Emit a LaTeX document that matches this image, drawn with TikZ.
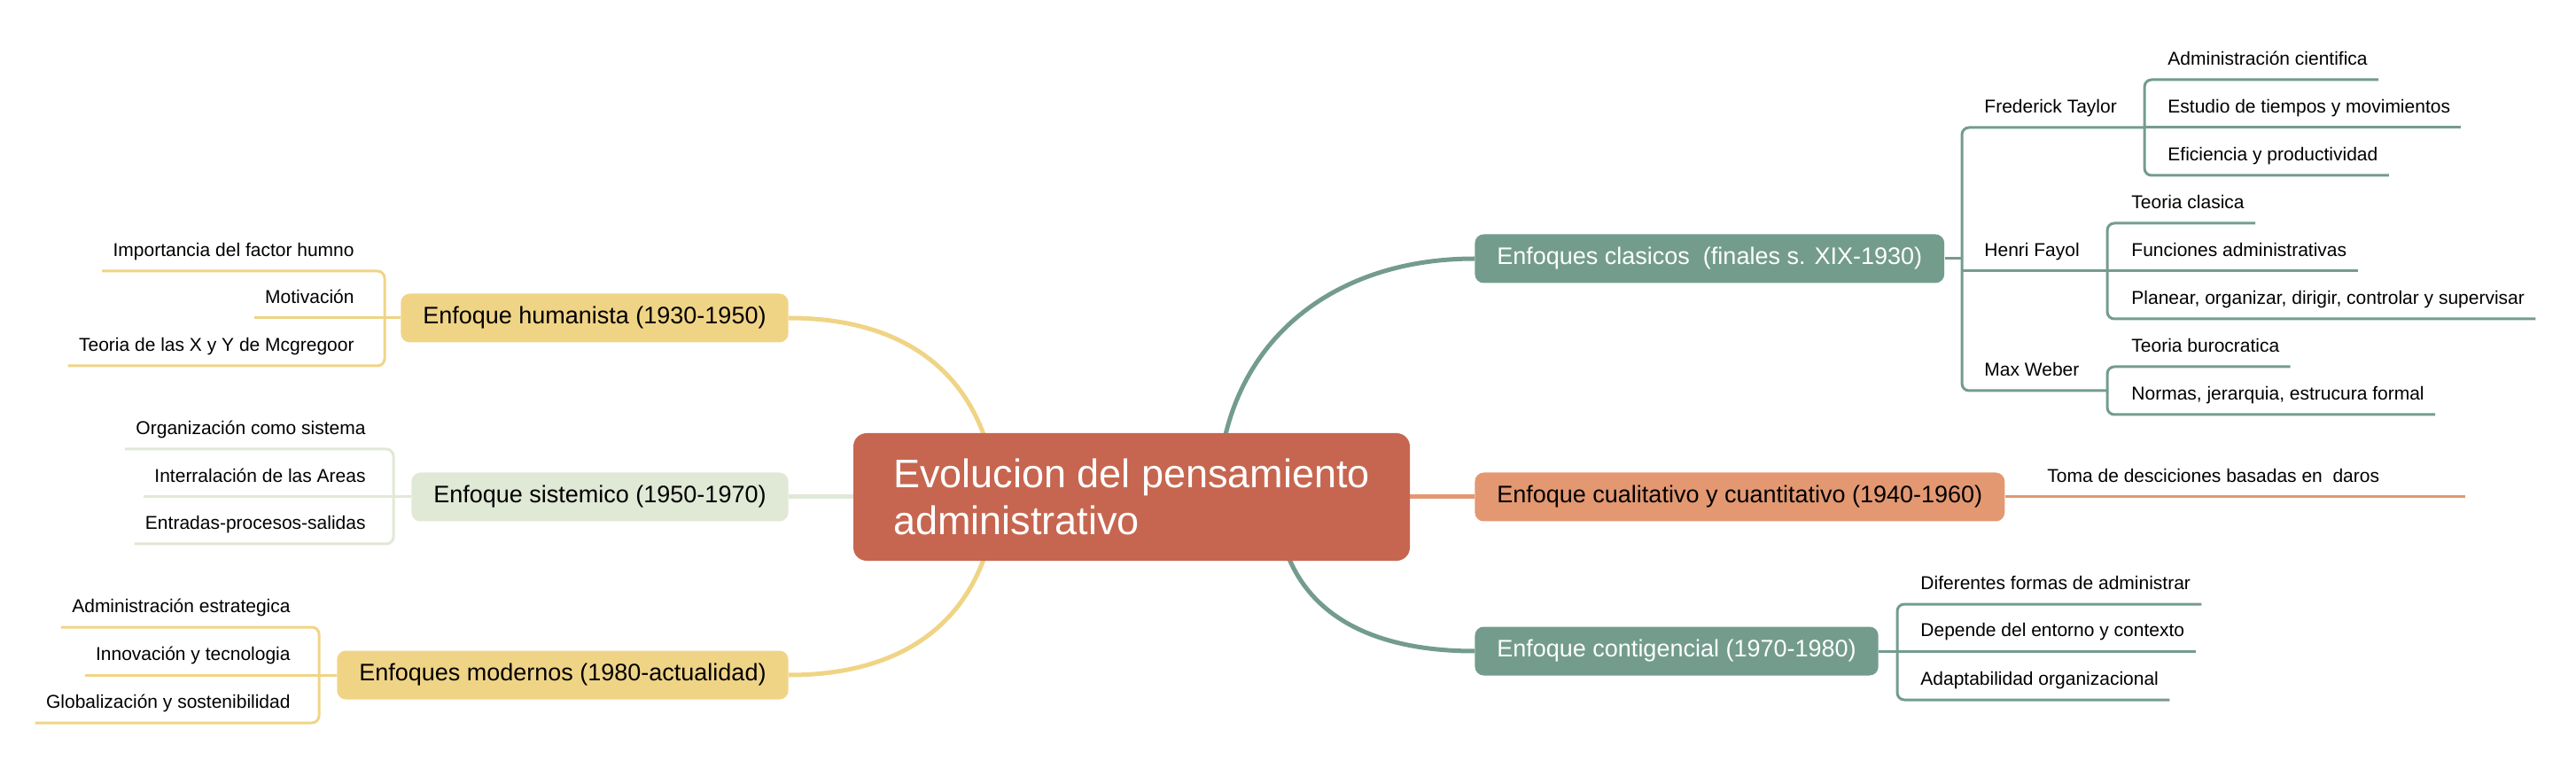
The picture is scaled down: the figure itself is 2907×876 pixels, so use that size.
\documentclass[tikz,border=0pt]{standalone}
\usepackage{fontspec}
\setmainfont{Liberation Sans}
\usepackage{tikz}
\usetikzlibrary{backgrounds}
\definecolor{mainColor}{RGB}{199,102,80}
\definecolor{humColor}{RGB}{240,212,134}
\definecolor{sisColor}{RGB}{224,232,214}
\definecolor{clasColor}{RGB}{115,156,141}
\definecolor{cualColor}{RGB}{227,152,114}

\begin{document}
\begin{tikzpicture}[x=0.5pt,y=-0.5pt]

          \tikzstyle{mainNode} = [fill=mainColor, text=white, rounded corners=7.5pt, align=left, minimum width=314pt, minimum height=72pt, font=\fontsize{22.5pt}{26.5pt}\selectfont];
          \tikzstyle{topicNode} = [rounded corners=5pt, minimum height=27.5pt, inner xsep=12.5pt, font=\fontsize{13.5pt}{16pt}\selectfont];
          \tikzstyle{leafNode} = [inner xsep=6pt, inner ysep=8pt, text depth=0pt, font=\fontsize{10.5pt}{12.5pt}\selectfont];

          \tikzstyle{curveEdge} = [line width=2.5pt];
          \tikzstyle{leafEdge} = [line width=1.5pt, rounded corners=4pt];

          \useasboundingbox (0,0) rectangle (2907,876);

          \node[mainNode] (main) at (1277,561) {Evolucion del pensamiento\\administrativo};
          \node[topicNode, fill=humColor, anchor=east] (humanista) at (890,359) {Enfoque humanista (1930-1950)};
          \node[topicNode, fill=sisColor, anchor=east] (sistemico) at (890,561) {Enfoque sistemico (1950-1970)};
          \node[topicNode, fill=humColor, anchor=east] (modernos) at (890,762) {Enfoques modernos (1980-actualidad)};
          \node[topicNode, fill=clasColor, text=white, anchor=west] (clasicos) at (1664,292) {Enfoques clasicos\ \ (finales s. XIX-1930)};
          \node[topicNode, fill=cualColor, anchor=west] (cualitativo) at (1664,561) {Enfoque cualitativo y cuantitativo (1940-1960)};
          \node[topicNode, fill=clasColor, text=white, anchor=west] (contigencial) at (1664,735) {Enfoque contigencial (1970-1980)};

          \coordinate (hubLeft) at (1125,561);
          \coordinate (hubTop) at (1375,561);
          \coordinate (hubBottom) at (1440,561);
          \begin{pgfonlayer}{background}
          \draw[curveEdge, humColor] (hubLeft) .. controls (1115,440) and (1040,359) .. (humanista.east);
          \draw[curveEdge, humColor] (hubLeft) .. controls (1115,682) and (1040,762) .. (modernos.east);
          \draw[curveEdge, sisColor] (main.west) -- (sistemico.east);
          \draw[curveEdge, clasColor] (hubTop) .. controls (1375,400) and (1491,292) .. (clasicos.west);
          \draw[curveEdge, cualColor] (main.east) -- (cualitativo.west);
          \draw[curveEdge, clasColor] (hubBottom) .. controls (1445,680) and (1530,735) .. (contigencial.west);
          \end{pgfonlayer}

          % humanista
          \coordinate (humB) at (434,359);
          \node[leafNode, anchor=south east] (factor) at (412,306) {Importancia del factor humno};
          \node[leafNode, anchor=south east] (motivacion) at (412,359) {Motivación};
          \node[leafNode, anchor=south east] (mcgregor) at (412,413) {Teoria de las X y Y de Mcgregoor};
          \draw[leafEdge, humColor] (factor.south west) -| (humB) |- (mcgregor.south west);
          \draw[leafEdge, humColor] (motivacion.south west) -- (humanista.west);

          % sistemico
          \coordinate (sisB) at (444,561);
          \node[leafNode, anchor=south east] (sistema) at (425,507) {Organización como sistema};
          \node[leafNode, anchor=south east] (areas) at (425,561) {Interralación de las Areas};
          \node[leafNode, anchor=south east] (entradas) at (425,614) {Entradas-procesos-salidas};
          \draw[leafEdge, sisColor] (sistema.south west) -| (sisB) |- (entradas.south west);
          \draw[leafEdge, sisColor] (areas.south west) -- (sistemico.west);

          % modernos
          \coordinate (modB) at (360,762);
          \node[leafNode, anchor=south east] (estrategica) at (340,708) {Administración estrategica};
          \node[leafNode, anchor=south east] (tecnologia) at (340,762) {Innovación y tecnologia};
          \node[leafNode, anchor=south east] (sostenible) at (340,816) {Globalización y sostenibilidad};
          \draw[leafEdge, humColor] (estrategica.south west) -| (modB) |- (sostenible.south west);
          \draw[leafEdge, humColor] (tecnologia.south west) -- (modernos.west);

          % clasicos
          \coordinate (clasB) at (2214,292);
          \coordinate (taylorB) at (2420,144);
          \coordinate (fayolB) at (2378,306);
          \coordinate (weberB) at (2378,441);
          \node[leafNode, anchor=south west] (taylor) at (2227,144) {Frederick Taylor};
          \node[leafNode, anchor=south west] (fayol) at (2227,306) {Henri Fayol};
          \node[leafNode, anchor=south west] (weber) at (2227,441) {Max Weber};
          \draw[leafEdge, clasColor] (clasicos.east) -- (clasB);
          \draw[leafEdge, clasColor] (taylorB) -| (clasB) |- (weberB);
          \draw[leafEdge, clasColor] (clasB |- fayolB) -- (fayolB);

          \node[leafNode, anchor=south west] (cientifica) at (2434,90) {Administración cientifica};
          \node[leafNode, anchor=south west] (tiempos) at (2434,144) {Estudio de tiempos y movimientos};
          \node[leafNode, anchor=south west] (eficiencia) at (2434,198) {Eficiencia y productividad};
          \draw[leafEdge, clasColor] (cientifica.south east) -| (taylorB) |- (eficiencia.south east);
          \draw[leafEdge, clasColor] (taylorB) -- (tiempos.south east);

          \node[leafNode, anchor=south west] (clasica) at (2393,252) {Teoria clasica};
          \node[leafNode, anchor=south west] (funciones) at (2393,306) {Funciones administrativas};
          \node[leafNode, anchor=south west] (planear) at (2393,360) {Planear, organizar, dirigir, controlar y supervisar};
          \draw[leafEdge, clasColor] (clasica.south east) -| (fayolB) |- (planear.south east);
          \draw[leafEdge, clasColor] (fayolB) -- (funciones.south east);

          \node[leafNode, anchor=south west] (burocratica) at (2393,414) {Teoria burocratica};
          \node[leafNode, anchor=south west] (normas) at (2393,468) {Normas, jerarquia, estrucura formal};
          \draw[leafEdge, clasColor] (burocratica.south east) -| (weberB) |- (normas.south east);

          % cualitativo
          \coordinate (decisionesEnd) at (2782,561);
          \node[leafNode, anchor=south west] (decisiones) at (2298,561) {Toma de desciciones basadas en\ \ daros};
          \draw[leafEdge, cualColor] (cualitativo.east) -- (decisionesEnd);

          % contigencial
          \coordinate (contB) at (2141,735);
          \node[leafNode, anchor=south west] (formas) at (2155,682) {Diferentes formas de administrar};
          \node[leafNode, anchor=south west] (entorno) at (2155,735) {Depende del entorno y contexto};
          \node[leafNode, anchor=south west] (adaptable) at (2155,790) {Adaptabilidad organizacional};
          \draw[leafEdge, clasColor] (contigencial.east) -- (contB);
          \draw[leafEdge, clasColor] (formas.south east) -| (contB) |- (adaptable.south east);
          \draw[leafEdge, clasColor] (contB) -- (entorno.south east);
        \end{tikzpicture}
\end{document}
